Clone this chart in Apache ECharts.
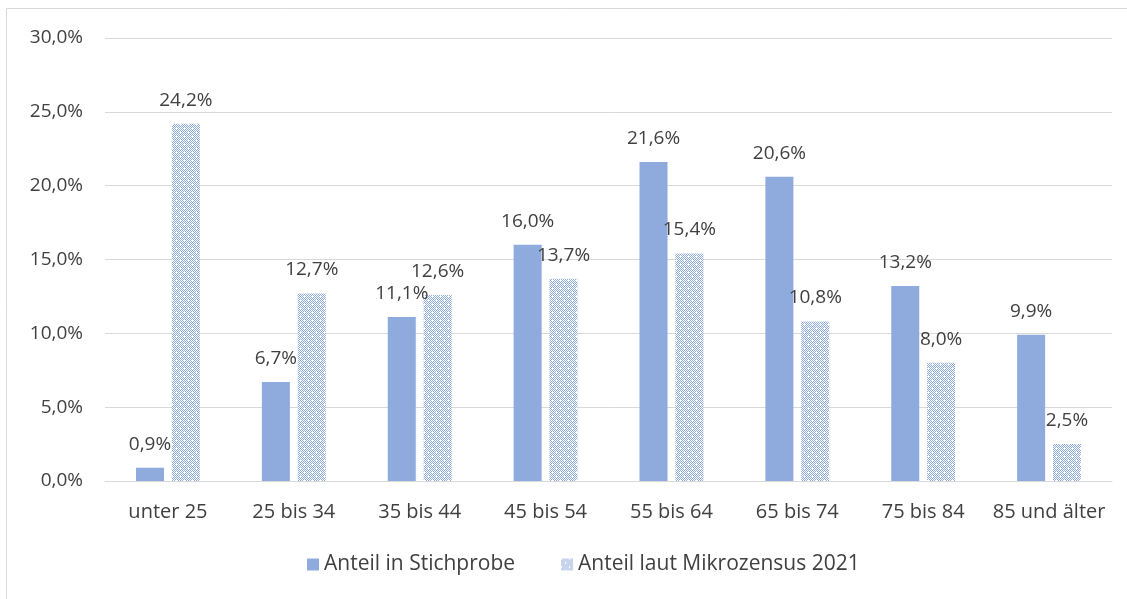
<!DOCTYPE html>
<html>
<head>
<meta charset="utf-8">
<script src="https://cdn.jsdelivr.net/npm/echarts@6/dist/echarts.min.js"></script>
<style>
  html, body { margin: 0; padding: 0; background: #fff; }
  #main { width: 1127px; height: 599px; }
</style>
</head>
<body>
<div id="main"></div>
<script>
  const categories = ['unter 25', '25 bis 34', '35 bis 44', '45 bis 54', '55 bis 64', '65 bis 74', '75 bis 84', '85 und älter'];
  const stichprobe = [0.9, 6.7, 11.1, 16.0, 21.6, 20.6, 13.2, 9.9];
  const mikrozensus = [24.2, 12.7, 12.6, 13.7, 15.4, 10.8, 8.0, 2.5];
  const seriesNames = ['Anteil in Stichprobe', 'Anteil laut Mikrozensus 2021'];

  const blue = '#8faadc';
  const textColor = '#404040';
  const font = 'Open Sans';
  const numSize = 19;
  const textSize = 20;

  // diamond lattice pattern like the Excel fill
  function makePattern() {
    const c = document.createElement('canvas');
    c.width = 8; c.height = 8;
    const ctx = c.getContext('2d');
    ctx.fillStyle = '#ffffff';
    ctx.fillRect(0, 0, 8, 8);
    ctx.fillStyle = blue;
    const pts = [[0, 0], [8, 0], [0, 8], [8, 8], [4, 4]];
    for (let y = 0; y < 8; y++) {
      for (let x = 0; x < 8; x++) {
        const d = Math.min(...pts.map(p => Math.abs(x - p[0]) + Math.abs(y - p[1])));
        if (d === 2 || d === 4) ctx.fillRect(x, y, 1, 1);
      }
    }
    return c;
  }

  const fmt = v => v.toFixed(1).replace('.', ',') + '%';

  const chart = echarts.init(document.getElementById('main'));
  const option = {
    animation: false,
    textStyle: { fontFamily: font },
    graphic: [{
      type: 'rect',
      shape: { x: 6.5, y: 8.5, width: 1300, height: 700 },
      style: { fill: 'none', stroke: '#d9d9d9', lineWidth: 1 },
      silent: true
    }],
    grid: { left: 105, right: 15, top: 38, bottom: 118 },
    legend: {
      bottom: 19,
      left: 302,
      itemWidth: 12,
      itemHeight: 12,
      itemGap: 46,
      icon: 'rect',
      textStyle: { color: textColor, fontSize: 21, fontFamily: font },
      data: seriesNames
    },
    xAxis: {
      type: 'category',
      data: categories,
      axisLine: { lineStyle: { color: '#d9d9d9', width: 1 } },
      axisTick: { show: false },
      axisLabel: { color: textColor, fontSize: textSize, margin: 21, interval: 0, fontFamily: font }
    },
    yAxis: {
      type: 'value',
      min: 0,
      max: 30,
      interval: 5,
      axisLine: { show: false },
      axisTick: { show: false },
      splitLine: { lineStyle: { color: '#d9d9d9', width: 1 } },
      axisLabel: { color: textColor, fontSize: numSize, margin: 22, fontFamily: font, formatter: v => fmt(v) }
    },
    series: [
      {
        name: seriesNames[0],
        type: 'bar',
        data: stichprobe,
        barWidth: 28,
        barGap: '28%',
        itemStyle: { color: blue },
        label: {
          show: true, position: 'top', distance: 14,
          color: textColor, fontSize: numSize, fontFamily: font,
          formatter: p => fmt(p.value)
        }
      },
      {
        name: seriesNames[1],
        type: 'bar',
        data: mikrozensus,
        barWidth: 28,
        itemStyle: { color: { image: makePattern(), repeat: 'repeat' } },
        label: {
          show: true, position: 'top', distance: 14,
          color: textColor, fontSize: numSize, fontFamily: font,
          formatter: p => fmt(p.value)
        }
      }
    ]
  };
  chart.setOption(option);
  window.addEventListener('resize', () => chart.resize());
</script>
</body>
</html>
